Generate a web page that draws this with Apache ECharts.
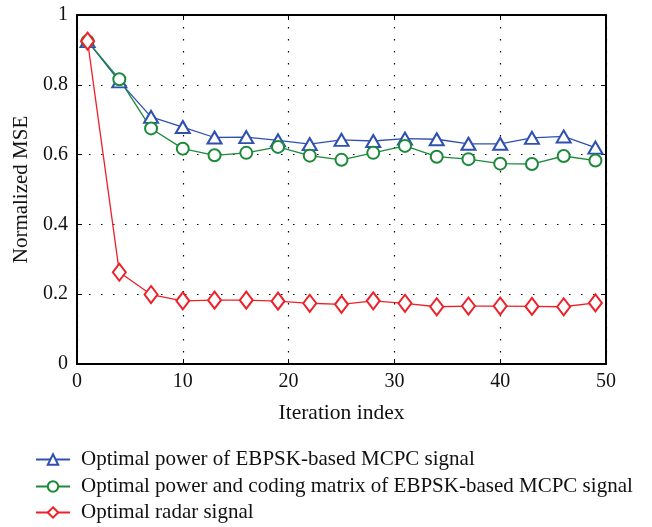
<!DOCTYPE html>
<html><head><meta charset="utf-8">
<script src="https://cdn.jsdelivr.net/npm/echarts@6/dist/echarts.min.js"></script>
<style>html,body{margin:0;padding:0;background:#fff}#c{width:652px;height:527px}</style>
</head><body><div id="c"></div>
<script>
const iterations = [1,4,7,10,13,16,19,22,25,28,31,34,37,40,43,46,49];
const powerOnly = [0.925,0.810,0.708,0.679,0.649,0.650,0.641,0.630,0.642,0.639,0.646,0.644,0.631,0.631,0.648,0.652,0.620];
const powerCoding = [0.925,0.816,0.675,0.617,0.598,0.605,0.622,0.597,0.585,0.605,0.625,0.594,0.587,0.574,0.573,0.596,0.583];
const radar = [0.925,0.263,0.199,0.181,0.183,0.183,0.180,0.174,0.171,0.181,0.174,0.164,0.166,0.166,0.165,0.164,0.175];
const seriesNames = ['Optimal power of EBPSK-based MCPC signal','Optimal power and coding matrix of EBPSK-based MCPC signal','Optimal radar signal'];
const xTicks = [0,10,20,30,40,50];
const yTicks = [0,0.2,0.4,0.6,0.8,1];

const font = 'Liberation Serif';
const pair = a => iterations.map((x,i)=>[x,a[i]]);
const chart = echarts.init(document.getElementById('c'));
const dotted = {show:true,lineStyle:{color:'#000',type:[1.5,10.5],width:1.2}};
const frameLine = {onZero:false,lineStyle:{color:'#000',width:2}};
const legendTops = [444,471,497];
chart.setOption({
  animation:false,
  textStyle:{fontFamily:font},
  grid:{left:77,right:46,top:15,bottom:163},
  legend:seriesNames.map((n,i)=>({orient:'vertical',left:30,top:legendTops[i],itemWidth:34,itemHeight:13,
    textStyle:{fontFamily:font,fontSize:21,color:'#111',padding:[0,0,0,6]},data:[n]})),
  xAxis:[{type:'value',min:0,max:50,interval:10,
    name:'Iteration index',nameLocation:'middle',nameGap:38,nameTextStyle:{fontFamily:font,fontSize:21.5,color:'#111'},
    axisLine:frameLine,axisTick:{inside:true,length:5,lineStyle:{color:'#000'}},
    axisLabel:{fontFamily:font,fontSize:20,color:'#111',margin:8},splitLine:dotted},
    {type:'value',position:'top',min:0,max:50,interval:10,
    axisLine:frameLine,axisTick:{inside:true,length:5,lineStyle:{color:'#000'}},
    axisLabel:{show:false},splitLine:{show:false}}],
  yAxis:[{type:'value',min:0,max:1,interval:0.2,
    name:'Normalized MSE',nameLocation:'middle',nameGap:43,nameTextStyle:{fontFamily:font,fontSize:21,color:'#111'},
    axisLine:frameLine,axisTick:{inside:true,length:5,lineStyle:{color:'#000'}},
    axisLabel:{fontFamily:font,fontSize:20,color:'#111',margin:9,formatter:v=>String(+v.toFixed(1))},splitLine:dotted},
    {type:'value',position:'right',min:0,max:1,interval:0.2,
    axisLine:frameLine,axisTick:{inside:true,length:5,lineStyle:{color:'#000'}},
    axisLabel:{show:false},splitLine:{show:false}}],
  series:[
    {name:seriesNames[0],type:'line',data:pair(powerOnly),symbol:'emptyTriangle',symbolSize:[14,12],
      lineStyle:{color:'#3050b0',width:1.3},itemStyle:{color:'#3050b0',borderWidth:1.5}},
    {name:seriesNames[1],type:'line',data:pair(powerCoding),symbol:'emptyCircle',symbolSize:12,
      lineStyle:{color:'#1c8a3a',width:1.3},itemStyle:{color:'#1c8a3a',borderWidth:1.5}},
    {name:seriesNames[2],type:'line',data:pair(radar),symbol:'emptyDiamond',symbolSize:[13,17],
      lineStyle:{color:'#ee2028',width:1.3},itemStyle:{color:'#ee2028',borderWidth:1.5}}
  ]
});
</script></body></html>
